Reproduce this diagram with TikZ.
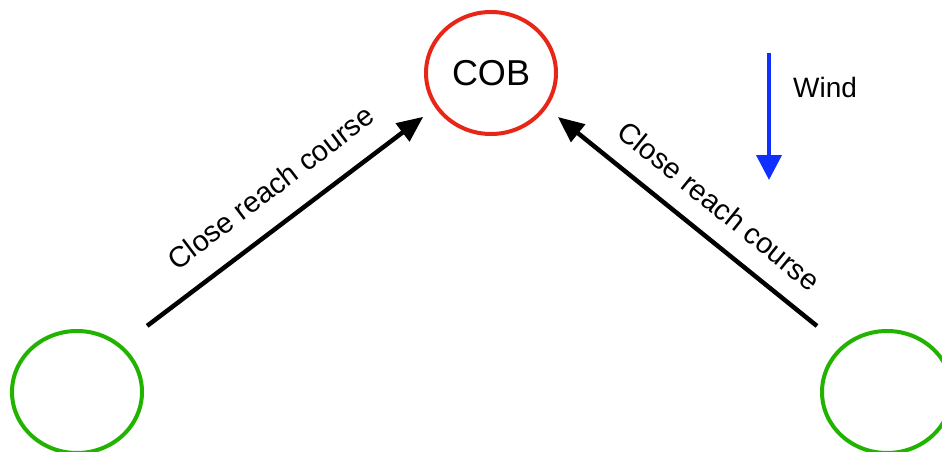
\documentclass[tikz,border=0pt]{standalone}
\usepackage{fontspec}
\setmainfont{Liberation Sans}
\usetikzlibrary{shapes.geometric,arrows.meta}
\definecolor{cobred}{RGB}{232,38,24}
\definecolor{boatgreen}{RGB}{34,178,0}
\definecolor{windblue}{RGB}{16,48,255}
\tikzset{
  spot/.style={ellipse,draw,line width=4pt,minimum width=130pt,minimum height=122pt,inner sep=0pt},
  course/.style={line width=4.5pt,-{Triangle[length=26pt,width=22pt]}},
  courselabel/.style={sloped,inner sep=0pt,font=\fontsize{29}{31}\selectfont},
  windarrow/.style={draw=windblue,line width=4pt,-{Triangle[length=25pt,width=25pt]},windblue}
}
\begin{document}
\begin{tikzpicture}[x=1pt,y=-1pt]
  \useasboundingbox (0,0) rectangle (942,452);
  % man overboard position and the two boats
  \node[spot,draw=cobred,font=\fontsize{36}{40}\selectfont] (cob) at (491,73) {COB};
  \node[spot,draw=boatgreen] (lb) at (77,392) {};
  \node[spot,draw=boatgreen] (rb) at (887,392) {};
  % approach courses, aimed a little above the centres
  \draw[course,shorten <=88pt,shorten >=85pt]
    ([yshift=13pt]lb.center) -- node[courselabel,above=23pt,pos=0.52] {Close reach course} ([yshift=7.5pt]cob.center);
  \draw[course,shorten <=90pt,shorten >=86pt]
    ([yshift=9.5pt]rb.center) -- node[courselabel,above=19pt,pos=0.475] {Close reach course} ([yshift=10pt]cob.center);
  % wind direction
  \coordinate (wtop) at (769,53);
  \coordinate (wbot) at (769,180);
  \draw[windarrow] (wtop) -- (wbot);
  \node[anchor=base west,inner sep=0pt,font=\fontsize{28}{30}\selectfont] (wind) at (793,97) {Wind};
\end{tikzpicture}
\end{document}
